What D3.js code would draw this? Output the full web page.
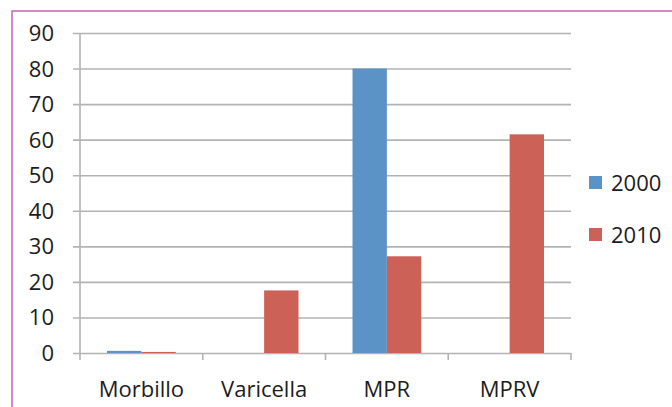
<!DOCTYPE html>
<html>
<head>
<meta charset="utf-8">
<script src="https://cdn.jsdelivr.net/npm/d3@7"></script>
<style>
  html, body { margin: 0; padding: 0; background: #fff; }
  svg { display: block; }
  text { font-family: "Open Sans", Lato, sans-serif; fill: #1c1c1c; }
</style>
</head>
<body>
<svg id="chart" width="672" height="407"></svg>
<script>
// Vaccine categories and percentages for the two survey years
const categories = ["Morbillo", "Varicella", "MPR", "MPRV"];
const years = ["2000", "2010"];
const values2000 = [0.6, 0, 80, 0];
const values2010 = [0.3, 17.6, 27.2, 61.5];
const yTicks = [0, 10, 20, 30, 40, 50, 60, 70, 80, 90];
const colors = ["#5b93c7", "#cb6157"];

const svg = d3.select("#chart");
const margin = { left: 80, right: 101, top: 33, bottom: 54 };
const W = 672, H = 407;
const fontSize = "22px";

// Outer frame
svg.append("rect")
  .attr("x", 12).attr("y", 11)
  .attr("width", 700).attr("height", 420)
  .attr("fill", "none")
  .attr("stroke", "#c266b6")
  .attr("stroke-width", 1.5);

const x = d3.scaleBand()
  .domain(categories)
  .range([margin.left, W - margin.right])
  .paddingInner(0.44).paddingOuter(0.22);
const xInner = d3.scaleBand().domain(years).range([0, x.bandwidth()]);
const y = d3.scaleLinear().domain([0, 90]).range([H - margin.bottom, margin.top]);

// Horizontal gridlines with short ticks to the left of the axis
const yAxis = d3.axisLeft(y).tickValues(yTicks)
  .tickSize(-(W - margin.right - margin.left))
  .tickFormat(d3.format("d"));
const gy = svg.append("g").attr("transform", `translate(${margin.left},0)`).call(yAxis);
gy.select(".domain").remove();
gy.selectAll(".tick line")
  .attr("x1", -7)
  .attr("stroke", "#b3b3b3").attr("stroke-width", 1.6);
gy.selectAll(".tick text")
  .attr("x", -26)
  .attr("dy", "0.34em")
  .style("font-size", fontSize).attr("fill", "#1c1c1c");

// Vertical axis line
svg.append("line")
  .attr("x1", margin.left).attr("x2", margin.left)
  .attr("y1", y(90)).attr("y2", y(0))
  .attr("stroke", "#b3b3b3").attr("stroke-width", 1.6);

// Category separators below the baseline
const bounds = [margin.left];
categories.forEach(c => bounds.push(x(c) + x.bandwidth() + x.step() * 0.44 / 2));
bounds[bounds.length - 1] = W - margin.right;
svg.selectAll("line.sep").data(bounds).join("line")
  .attr("class", "sep")
  .attr("x1", d => d).attr("x2", d => d)
  .attr("y1", y(0)).attr("y2", y(0) + 7)
  .attr("stroke", "#b3b3b3").attr("stroke-width", 1.6);

// Bars
const rows = categories.map((c, i) => ({ cat: c, vals: [values2000[i], values2010[i]] }));
const groups = svg.selectAll("g.grp").data(rows).join("g")
  .attr("class", "grp")
  .attr("transform", d => `translate(${x(d.cat)},0)`);
groups.selectAll("rect").data(d => d.vals.map((v, j) => ({ v, year: years[j], j })))
  .join("rect")
  .attr("x", d => xInner(d.year))
  .attr("width", xInner.bandwidth())
  .attr("y", d => y(d.v))
  .attr("height", d => y(0) - y(d.v))
  .attr("fill", d => colors[d.j]);

// Category labels
svg.selectAll("text.cat").data(categories).join("text")
  .attr("class", "cat")
  .attr("x", d => x(d) + x.bandwidth() / 2)
  .attr("y", y(0) + 44)
  .attr("text-anchor", "middle")
  .style("font-size", fontSize)
  .text(d => d);

// Legend
const legend = svg.append("g").attr("transform", "translate(589,176)");
years.forEach((yr, i) => {
  const g = legend.append("g").attr("transform", `translate(0,${i * 52})`);
  g.append("rect").attr("width", 13).attr("height", 13).attr("fill", colors[i]);
  g.append("text").attr("x", 22).attr("y", 15).style("font-size", fontSize).text(yr);
});
</script>
</body>
</html>
